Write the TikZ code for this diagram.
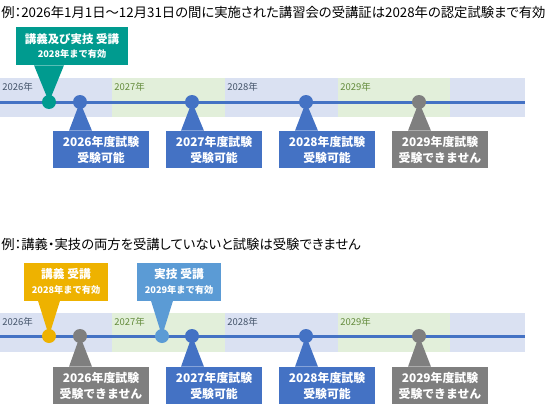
\documentclass[tikz,border=0pt]{standalone}
\usepackage{fontspec}
\setmainfont{Noto Sans CJK JP}
\newfontfamily\titlefont{Noto Sans CJK JP}[RawFeature=+palt]
\usetikzlibrary{calc}
\definecolor{tealc}{RGB}{0,155,143}
\definecolor{bluec}{RGB}{68,114,196}
\definecolor{grayc}{RGB}{127,127,127}
\definecolor{goldc}{RGB}{238,178,0}
\definecolor{lbluec}{RGB}{91,155,213}
\definecolor{bandb}{RGB}{218,225,242}
\definecolor{bandg}{RGB}{226,239,218}
\definecolor{yrb}{RGB}{68,84,106}
\definecolor{yrg}{RGB}{100,140,60}
\begin{document}
\begin{tikzpicture}[x=0.75pt,y=-0.75pt,
  titletext/.style={anchor=west,inner sep=0pt,font=\titlefont\fontsize{10}{12}\selectfont},
  yeartext/.style={anchor=west,inner sep=0pt,font=\fontsize{7.1}{8}\selectfont},
  dotnode/.style={circle,inner sep=0pt,minimum size=10.5pt},
  lowbox/.style={rectangle,inner sep=0pt,minimum width=72pt,minimum height=27.75pt,align=center,text=white,font=\bfseries\fontsize{8.9}{12}\selectfont},
  upbox/.style={rectangle,inner sep=0pt,minimum height=28.5pt,align=center,text=white},
  tline/.style={bluec,line width=2.25pt}
]
\useasboundingbox (0,0) rectangle (550,414);

% titles
\node[titletext] (t1) at (1,12) {例：2026年1月1日～12月31日の間に実施された講習会の受講証は2028年の認定試験まで有効};
\node[titletext] (t2) at (1,244) {例：講義・実技の両方を受講していないと試験は受験できません};

% ---------- top timeline ----------
\fill[bandb] (0,78) rectangle (112,117);
\fill[bandg] (112,78) rectangle (225,117);
\fill[bandb] (225,78) rectangle (338,117);
\fill[bandg] (338,78) rectangle (450,117);
\fill[bandb] (450,78) rectangle (525,117);
\node[yeartext,text=yrb] (ya26) at (2,87) {2026年};
\node[yeartext,text=yrg] (ya27) at (114,87) {2027年};
\node[yeartext,text=yrb] (ya28) at (227,87) {2028年};
\node[yeartext,text=yrg] (ya29) at (340,87) {2029年};
\coordinate (la) at (0,102);
\coordinate (lb) at (525,102);
\draw[tline] (la) -- (lb);

\node[upbox,fill=tealc,minimum width=84pt] (ca) at (72,46) {{\bfseries\fontsize{8.6}{9}\selectfont 講義及び実技 受講}\\[-1pt]{\bfseries\fontsize{6.9}{8}\selectfont 2028年まで有効}};
\node[lowbox,fill=bluec] (ba26) at (101,149.5) {2026年度試験\\受験可能};
\node[lowbox,fill=bluec] (ba27) at (214,149.5) {2027年度試験\\受験可能};
\node[lowbox,fill=bluec] (ba28) at (327,149.5) {2028年度試験\\受験可能};
\node[lowbox,fill=grayc] (ba29) at (440,149.5) {2029年度試験\\受験できません};

\coordinate (pa0) at (49,102);
\coordinate (pa26) at (80,102);
\coordinate (pa27) at (192,102);
\coordinate (pa28) at (306,102);
\coordinate (pa29) at (419,102);

\fill[tealc] ([xshift=-11.25pt]pa0 |- ca.south) -- (pa0) -- ([xshift=11.25pt]pa0 |- ca.south) -- cycle;
\fill[bluec] ([xshift=-8.25pt]pa26 |- ba26.north) -- (pa26) -- ([xshift=9pt]pa26 |- ba26.north) -- cycle;
\fill[bluec] ([xshift=-8.25pt]pa27 |- ba27.north) -- (pa27) -- ([xshift=9pt]pa27 |- ba27.north) -- cycle;
\fill[bluec] ([xshift=-8.25pt]pa28 |- ba28.north) -- (pa28) -- ([xshift=9pt]pa28 |- ba28.north) -- cycle;
\fill[grayc] ([xshift=-8.25pt]pa29 |- ba29.north) -- (pa29) -- ([xshift=9pt]pa29 |- ba29.north) -- cycle;

\node[dotnode,fill=tealc] (da0) at (pa0) {};
\node[dotnode,fill=bluec] (da26) at (pa26) {};
\node[dotnode,fill=bluec] (da27) at (pa27) {};
\node[dotnode,fill=bluec] (da28) at (pa28) {};
\node[dotnode,fill=grayc] (da29) at (pa29) {};

% ---------- bottom timeline ----------
\fill[bandb] (0,313) rectangle (112,352);
\fill[bandg] (112,313) rectangle (225,352);
\fill[bandb] (225,313) rectangle (338,352);
\fill[bandg] (338,313) rectangle (450,352);
\fill[bandb] (450,313) rectangle (525,352);
\node[yeartext,text=yrb] (yb26) at (2,322) {2026年};
\node[yeartext,text=yrg] (yb27) at (114,322) {2027年};
\node[yeartext,text=yrb] (yb28) at (227,322) {2028年};
\node[yeartext,text=yrg] (yb29) at (340,322) {2029年};
\coordinate (lc) at (0,336);
\coordinate (ld) at (525,336);
\draw[tline] (lc) -- (ld);

\node[upbox,fill=goldc,minimum width=63pt] (cb1) at (66,281.5) {{\bfseries\fontsize{8.8}{9}\selectfont 講義 受講}\\[-1pt]{\bfseries\fontsize{6.9}{8}\selectfont 2028年まで有効}};
\node[upbox,fill=lbluec,minimum width=63pt] (cb2) at (179,281.5) {{\bfseries\fontsize{8.8}{9}\selectfont 実技 受講}\\[-1pt]{\bfseries\fontsize{6.9}{8}\selectfont 2029年まで有効}};
\node[lowbox,fill=grayc] (bb26) at (101,385.5) {2026年度試験\\受験できません};
\node[lowbox,fill=bluec] (bb27) at (214,385.5) {2027年度試験\\受験可能};
\node[lowbox,fill=bluec] (bb28) at (327,385.5) {2028年度試験\\受験可能};
\node[lowbox,fill=grayc] (bb29) at (440,385.5) {2029年度試験\\受験できません};

\coordinate (pb1) at (49,336);
\coordinate (pb2) at (162,336);
\coordinate (pb26) at (80,336);
\coordinate (pb27) at (192,336);
\coordinate (pb28) at (306,336);
\coordinate (pb29) at (419,336);

\fill[goldc] ([xshift=-8.25pt]pb1 |- cb1.south) -- (pb1) -- ([xshift=8.25pt]pb1 |- cb1.south) -- cycle;
\fill[lbluec] ([xshift=-8.25pt]pb2 |- cb2.south) -- (pb2) -- ([xshift=8.25pt]pb2 |- cb2.south) -- cycle;
\fill[grayc] ([xshift=-8.25pt]pb26 |- bb26.north) -- (pb26) -- ([xshift=9pt]pb26 |- bb26.north) -- cycle;
\fill[bluec] ([xshift=-8.25pt]pb27 |- bb27.north) -- (pb27) -- ([xshift=9pt]pb27 |- bb27.north) -- cycle;
\fill[bluec] ([xshift=-8.25pt]pb28 |- bb28.north) -- (pb28) -- ([xshift=9pt]pb28 |- bb28.north) -- cycle;
\fill[grayc] ([xshift=-8.25pt]pb29 |- bb29.north) -- (pb29) -- ([xshift=9pt]pb29 |- bb29.north) -- cycle;

\node[dotnode,fill=goldc] (db1) at (pb1) {};
\node[dotnode,fill=grayc] (db26) at (pb26) {};
\node[dotnode,fill=lbluec] (db2) at (pb2) {};
\node[dotnode,fill=bluec] (db27) at (pb27) {};
\node[dotnode,fill=bluec] (db28) at (pb28) {};
\node[dotnode,fill=grayc] (db29) at (pb29) {};
\end{tikzpicture}
\end{document}
